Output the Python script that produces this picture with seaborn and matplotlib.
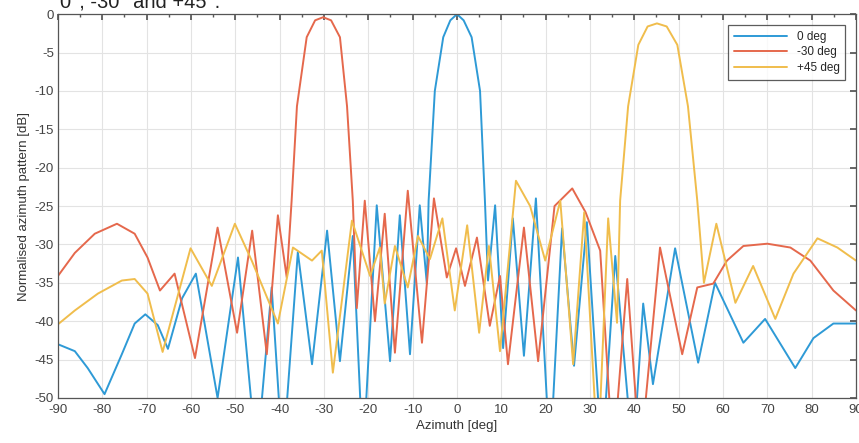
import pandas as pd
import matplotlib
matplotlib.use("Agg")
import matplotlib.pyplot as plt
import seaborn as sns
from matplotlib.ticker import MultipleLocator

# Azimuth patterns (peaks, nulls and main-lobe points)
az_0 = [-90, -86.2, -83.3, -79.5, -75.6, -72.7, -70.3, -67.5, -65.2, -62, -58.9, -54, -49.4,
        -45.2, -41.8, -39.3, -35.9, -32.7, -29.3, -26.4, -23.5, -21.2, -18.1, -15.1, -12.9,
        -10.6, -8.4, -6.8, -6.4, -5.0, -3.1, -1.5, 0, 1.5, 3.3, 5.2, 6.3, 7.0, 8.6, 10.4,
        12.6, 15.1, 17.8, 21.0, 23.7, 26.4, 29.3, 32.7, 35.7, 39.7, 42.0, 44.2, 49.2, 54.4,
        58.2, 64.6, 69.5, 76.3, 80.4, 84.9, 90]
db_0 = [-43, -43.9, -46.1, -49.5, -44.3, -40.3, -39.1, -40.5, -43.6, -37, -33.8, -50, -31.7,
        -58, -35.6, -58, -31, -45.6, -28.2, -45.2, -28.9, -58, -24.9, -45.2, -26.2,
        -44.3, -24.9, -35.1, -24.3, -10, -3, -0.8, 0, -0.8, -3, -10, -24.3, -34.7, -24.9, -43.5,
        -26.6, -44.5, -24.0, -58, -27.9, -45.8, -27.1, -58, -31.5, -58, -37.7, -48.2, -30.5, -45.4,
        -35.0, -42.8, -39.7, -46.1, -42.2, -40.3, -40.3]

az_m30 = [-90, -86.2, -81.7, -76.7, -72.7, -69.8, -67, -63.7, -59.1, -54, -49.6, -46.2, -42.9,
          -40.4, -38.4, -37.3, -36.1, -33.9, -32, -30.2, -28.4, -26.4, -24.8, -23.5, -22.6,
          -20.8, -18.5, -16.3, -14, -11.1, -7.9, -5.2, -2.3, -0.2, 1.8, 4.5, 7.4, 9.7, 11.5,
          15.1, 18.3, 22, 26, 29, 32.3, 35.2, 38.4, 41.3, 45.8, 50.8, 54.2, 57.8, 60.9, 64.6,
          70, 75.2, 79.7, 84.9, 90]
db_m30 = [-34.1, -31.1, -28.6, -27.3, -28.6, -31.7, -36, -33.8, -44.8, -27.8, -41.5, -28.2, -44.3,
          -26.2, -34.3, -24.3, -12, -3, -0.8, -0.4, -0.8, -3, -12, -24.3, -38.3,
          -24.3, -40, -26, -44.1, -23, -42.8, -24, -34.3, -30.5, -35.4, -29.1, -40.6, -34.1, -45.6,
          -27.8, -45.2, -25, -22.7, -25.8, -30.8, -58, -34.5, -58, -30.4, -44.3, -35.6, -35.1, -32.1, -30.2,
          -29.9, -30.4, -32.1, -36, -38.6]

az_p45 = [-90, -86.2, -81, -75.6, -72.7, -69.8, -66.4, -60.1, -55.3, -50.1, -46.3, -40.4, -37,
          -32.7, -30.5, -28, -23.7, -19.6, -17.4, -16.3, -14, -11.1, -8.8, -6.1, -3.3, -0.5,
          2.3, 5, 7.2, 9.7, 13.3, 16.5, 19.9, 23.3, 26.2, 28.7, 31.8, 34.1, 36.1, 36.8, 38.6,
          40.9, 43, 45.1, 47.3, 49.7, 52.1, 54.2, 55.7, 58.5, 62.8, 66.8, 71.8, 75.9, 81.3,
          85.8, 90]
db_p45 = [-40.4, -38.6, -36.4, -34.7, -34.5, -36.4, -44, -30.5, -35.4, -27.3, -32.1, -40.3, -30.4,
          -32.1, -30.8, -46.7, -26.9, -34.1, -30.4, -37.7, -30.2, -35.6, -28.9, -31.9, -26.6, -38.6,
          -27.5, -41.5, -30.2, -43.9, -21.7, -25, -32.1, -24.3, -45.6, -25.8, -58, -26.6, -40.2, -24.3, -12,
          -4, -1.6, -1.2, -1.6, -4, -12, -24.3, -35, -27.3, -37.6, -32.8, -39.7, -33.8, -29.2,
          -30.4, -32.1]

labels = ["0 deg", "-30 deg", "+45 deg"]
colors = ["#2e9ad6", "#e5684c", "#f0bd4c"]

df = pd.concat([
    pd.DataFrame({"az": az_0, "db": db_0, "steer": labels[0]}),
    pd.DataFrame({"az": az_m30, "db": db_m30, "steer": labels[1]}),
    pd.DataFrame({"az": az_p45, "db": db_p45, "steer": labels[2]}),
])

sns.set_theme(style="whitegrid")
plt.rcParams["font.family"] = ["Liberation Sans", "DejaVu Sans"]
plt.rcParams["axes.unicode_minus"] = False

fig = plt.figure(figsize=(8.59, 4.43), dpi=100)
ax = fig.add_axes([0.0675, 0.1016, 0.929, 0.8664])

sns.lineplot(data=df, x="az", y="db", hue="steer", palette=dict(zip(labels, colors)),
             estimator=None, sort=False, linewidth=1.4, ax=ax)

ax.set_xlim(-90, 90)
ax.set_ylim(-50, 0)
ax.xaxis.set_major_locator(MultipleLocator(10))
ax.xaxis.set_minor_locator(MultipleLocator(5))
ax.yaxis.set_major_locator(MultipleLocator(5))
ax.grid(True, which="major", color="#e3e3e3", linewidth=0.8)
ax.set_facecolor("white")
for s in ax.spines.values():
    s.set_color("#555555")
    s.set_linewidth(0.9)
ax.tick_params(which="both", direction="in", top=True, right=True, color="#555555",
               labelsize=9.5, labelcolor="#444444")
ax.tick_params(axis="x", pad=4)
ax.tick_params(axis="y", pad=3)
ax.tick_params(which="major", length=4)
ax.tick_params(which="minor", length=2.5)

ax.set_xlabel("Azimuth [deg]", fontsize=9.5, color="#333333", labelpad=3)
ax.set_ylabel("Normalised azimuth pattern [dB]", fontsize=9.5, color="#333333", labelpad=3)

leg = ax.legend(loc="upper right", fontsize=8.5, handlelength=4.5, frameon=True,
                fancybox=False, borderaxespad=0.9, labelspacing=0.3, borderpad=0.5)
leg.get_frame().set_edgecolor("#333333")
leg.get_frame().set_linewidth(0.9)
leg.set_title(None)

# caption from the page above, cut off by the crop
fig.text(60 / 859, 1 - 8 / 443, "0°, -30° and +45°.", fontsize=14.5, color="#222222",
         va="baseline", ha="left")

fig.savefig("out.png", dpi=100)
